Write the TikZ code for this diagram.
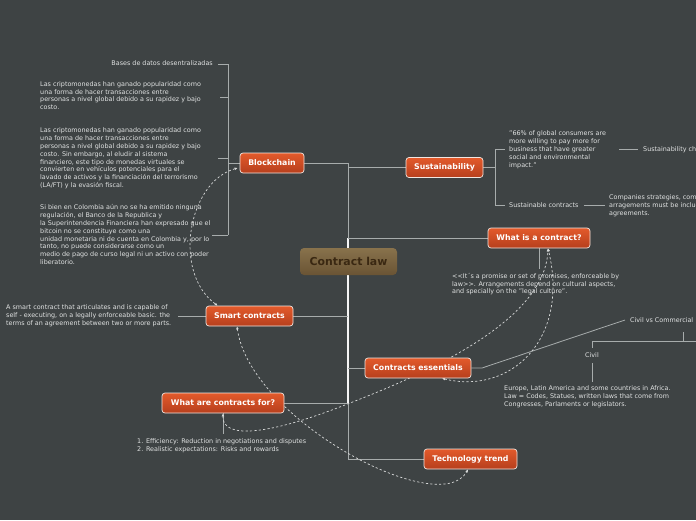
\documentclass[tikz,border=0pt]{standalone}
\usepackage{fontspec}
\setmainfont{DejaVu Sans}
\usetikzlibrary{arrows.meta}
\pgfdeclarelayer{back}
\pgfdeclarelayer{bg}
\pgfsetlayers{back,bg,main}
\definecolor{bgc}{HTML}{3E4344}
\definecolor{txt}{HTML}{E0E2E2}
\definecolor{lnc}{HTML}{A7ACAC}
\definecolor{otop}{HTML}{E35A2B}
\definecolor{obot}{HTML}{B63F1D}
\definecolor{obord}{HTML}{F2E6E0}
\definecolor{ctop}{HTML}{88724C}
\definecolor{cbot}{HTML}{6A5434}
\definecolor{ctxt}{HTML}{3A2812}
\definecolor{relc}{HTML}{D8DADA}
\tikzset{
 topic/.style={draw=obord, line width=0.7pt, rounded corners=3pt, top color=otop, bottom color=obot, text=white, font=\fontsize{7.8}{9}\selectfont\bfseries, minimum height=20pt, inner sep=0pt},
 central/.style={rounded corners=4pt, top color=ctop, bottom color=cbot, text=ctxt, font=\fontsize{10.9}{12}\selectfont\bfseries, minimum width=97pt, minimum height=27pt, inner sep=0pt},
 note/.style={text=txt, font=\fontsize{6.4}{7.8}\selectfont, align=left, inner sep=0pt, anchor=north west},
 smalltxt/.style={text=txt, font=\fontsize{6.4}{7.8}\selectfont, inner sep=0pt},
 conn/.style={draw=lnc, line width=0.8pt},
 trunk/.style={draw=white!92!gray, line width=1.4pt},
 rel/.style={draw=relc, line width=0.7pt, dash pattern=on 2.2pt off 2.2pt, {Latex[length=3pt,width=2.8pt]}-{Latex[length=3pt,width=2.8pt]}},
}
\begin{document}
\begin{tikzpicture}[x=1pt,y=-1pt]
\begin{pgfonlayer}{back}
\fill[bgc] (0,0) rectangle (696,520);
\end{pgfonlayer}
\useasboundingbox (0,0) rectangle (696,520);

% main nodes
\node[central] (root) at (348.5,261.5) {Contract law};
\node[topic, minimum width=64pt] (bc) at (272,163) {Blockchain};
\node[topic, minimum width=77pt] (sus) at (444.5,167.5) {Sustainability};
\node[topic, minimum width=102pt] (wic) at (539,238) {What is a contract?};
\node[topic, minimum width=87pt] (sc) at (249.5,316) {Smart contracts};
\node[topic, minimum width=106pt] (ce) at (418,368) {Contracts essentials};
\node[topic, minimum width=122pt] (wacf) at (223,403) {What are contracts for?};
\node[topic, minimum width=93pt] (tt) at (470.5,459) {Technology trend};

% texts
\node[smalltxt, anchor=base east] (bases) at (213,65.6) {Bases de datos desentralizadas};
\node[note] (bt2) at (40,81.2) {Las criptomonedas han ganado popularidad como\\una forma de hacer transacciones entre\\personas a nivel global debido a su rapidez y bajo\\costo.};
\node[note] (bt3) at (40,127.9) {Las criptomonedas han ganado popularidad como\\una forma de hacer transacciones entre\\personas a nivel global debido a su rapidez y bajo\\costo. Sin embargo, al eludir al sistema\\financiero, este tipo de monedas virtuales se\\convierten en vehículos potenciales para el\\lavado de activos y la financiación del terrorismo\\(LA/FT) y la evasión fiscal.};
\node[note] (bt4) at (40,204.6) {Si bien en Colombia aún no se ha emitido ninguna\\regulación, el Banco de la Republica y\\la Superintendencia Financiera han expresado que el\\bitcoin no se constituye como una\\unidad monetaria ni de cuenta en Colombia y, por lo\\tanto, no puede considerarse como un\\medio de pago de curso legal ni un activo con poder\\liberatorio.};
\node[note] (sct) at (6,304.6) {A smart contract that articulates and is capable of\\self - executing, on a legally enforceable basic. the\\terms of an agreement between two or more parts.};
\node[note] (quote) at (509,130.9) {"66\% of global consumers are\\more willing to pay more for\\business that have greater\\social and environmental\\impact."};
\node[smalltxt, anchor=base west] (susch) at (643,151) {Sustainability challenges};
\node[smalltxt, anchor=base west] (susc) at (509,207.4) {Sustainable contracts};
\node[note] (comp) at (609,194.6) {Companies strategies, commercial\\arragements must be included in\\agreements.};
\node[note] (prom) at (452,272.9) {<{}<It´s a promise or set of promises, enforceable by\\law>{}>. Arrangements depend on cultural aspects,\\and specially on the "legal culture".};
\node[smalltxt, anchor=base west] (cvc) at (630,322.6) {Civil vs Commercial};
\node[smalltxt, anchor=base] (civil) at (592,357.6) {Civil};
\node[note] (eur) at (504,385.9) {Europe, Latin America and some countries in Africa.\\Law = Codes, Statues, written laws that come from\\Congresses, Parlaments or legislators.};
\node[note] (eff) at (137,438.6) {1. Efficiency: Reduction in negotiations and disputes\\2. Realistic expectations: Risks and rewards};

% junction coordinates
\coordinate (j1) at (348,163);
\coordinate (j2) at (348,167.5);
\coordinate (j3) at (348,238);
\coordinate (j4) at (348,316);
\coordinate (j5) at (348,368);
\coordinate (j6) at (348,403);
\coordinate (j7) at (348,459);
\coordinate (bb) at (228,163);
\coordinate (b1) at (228,64);
\coordinate (b2) at (228,97);
\coordinate (b3) at (228,158);
\coordinate (b4) at (228,235);
\coordinate (sb) at (495,167.5);
\coordinate (s1) at (495,149);
\coordinate (s2) at (495,205.5);
\coordinate (wicd) at (539,269);
\coordinate (cek) at (482,368);
\coordinate (cvcd) at (625,320);
\coordinate (cv1) at (683,332);
\coordinate (cv2) at (683,341);
\coordinate (cbl) at (592,341);
\coordinate (cbr) at (700,341);
\coordinate (cvt) at (592,347.7);
\coordinate (cvb1) at (592,363);
\coordinate (cvb2) at (592,382);
\coordinate (wacfd) at (223,434);
\coordinate (mid) at (350,403);

\begin{pgfonlayer}{bg}
% trunk
\draw[conn] (j1) -- (j7);
\draw[trunk] (j3) -- (j6);
\draw[conn] (bc.east) -- (j1);
\draw[conn] (j2) -- (sus.west);
\draw[conn] (j3) -- (wic.west);
\draw[conn] (sc.east) -- (j4);
\draw[conn] (j5) -- (ce.west);
\draw[conn] (wacf.east) -- (j6);
\draw[conn] (j7) -- (tt.west);
% blockchain bracket
\draw[conn] (bc.west) -- (bb);
\draw[conn] (b1) -- (b4);
\draw[conn] (b1) -- ++(-10,0);
\draw[conn] (b2) -- ++(-8,0);
\draw[conn] (b3) -- ++(-10,0);
\draw[conn] (b4) -- ++(-16,0);
% sustainability bracket
\draw[conn] (sus.east) -- (sb);
\draw[conn] (s1) -- (s2);
\draw[conn] (s1) -- ++(10,0);
\draw[conn] (s2) -- ++(10,0);
\draw[conn] ([xshift=-24pt]susch.west |- s1) -- ([xshift=-5pt]susch.west |- s1);
\draw[conn] ([xshift=5pt]susc.east |- s2) -- ([xshift=-4pt]comp.west |- s2);
% what is a contract
\draw[conn] (wic.south) -- (wicd);
% smart contracts
\draw[conn] ([xshift=7pt]sct.east |- sc.west) -- (sc.west);
% contracts essentials
\draw[conn] (ce.east) -- (cek) -- (cvcd);
\draw[conn] (cv1) -- (cv2);
\draw[conn] (cbl) -- (cbr);
\draw[conn] (cbl) -- (cvt);
\draw[conn] (cvb1) -- (cvb2);
% what are contracts for
\draw[conn] (wacf.south) -- (wacfd);
% relationships
\draw[rel] ([xshift=-2pt,yshift=-5pt]bc.west) .. controls (188,182) and (172,272) .. ([xshift=12pt]sc.north west);
\draw[rel] ([xshift=-12.5pt]sc.south) .. controls (250,420) and (440,520) .. ([xshift=-2.5pt]tt.south);
\draw[rel] (wacf.south) .. controls (222,440) and (270,435) .. (mid) .. controls (430,372) and (545,320) .. ([xshift=9pt]wic.south);
\draw[rel] ([xshift=24pt]ce.south) .. controls (510,395) and (570,340) .. ([xshift=9pt]wic.south);
\end{pgfonlayer}
\end{tikzpicture}
\end{document}
